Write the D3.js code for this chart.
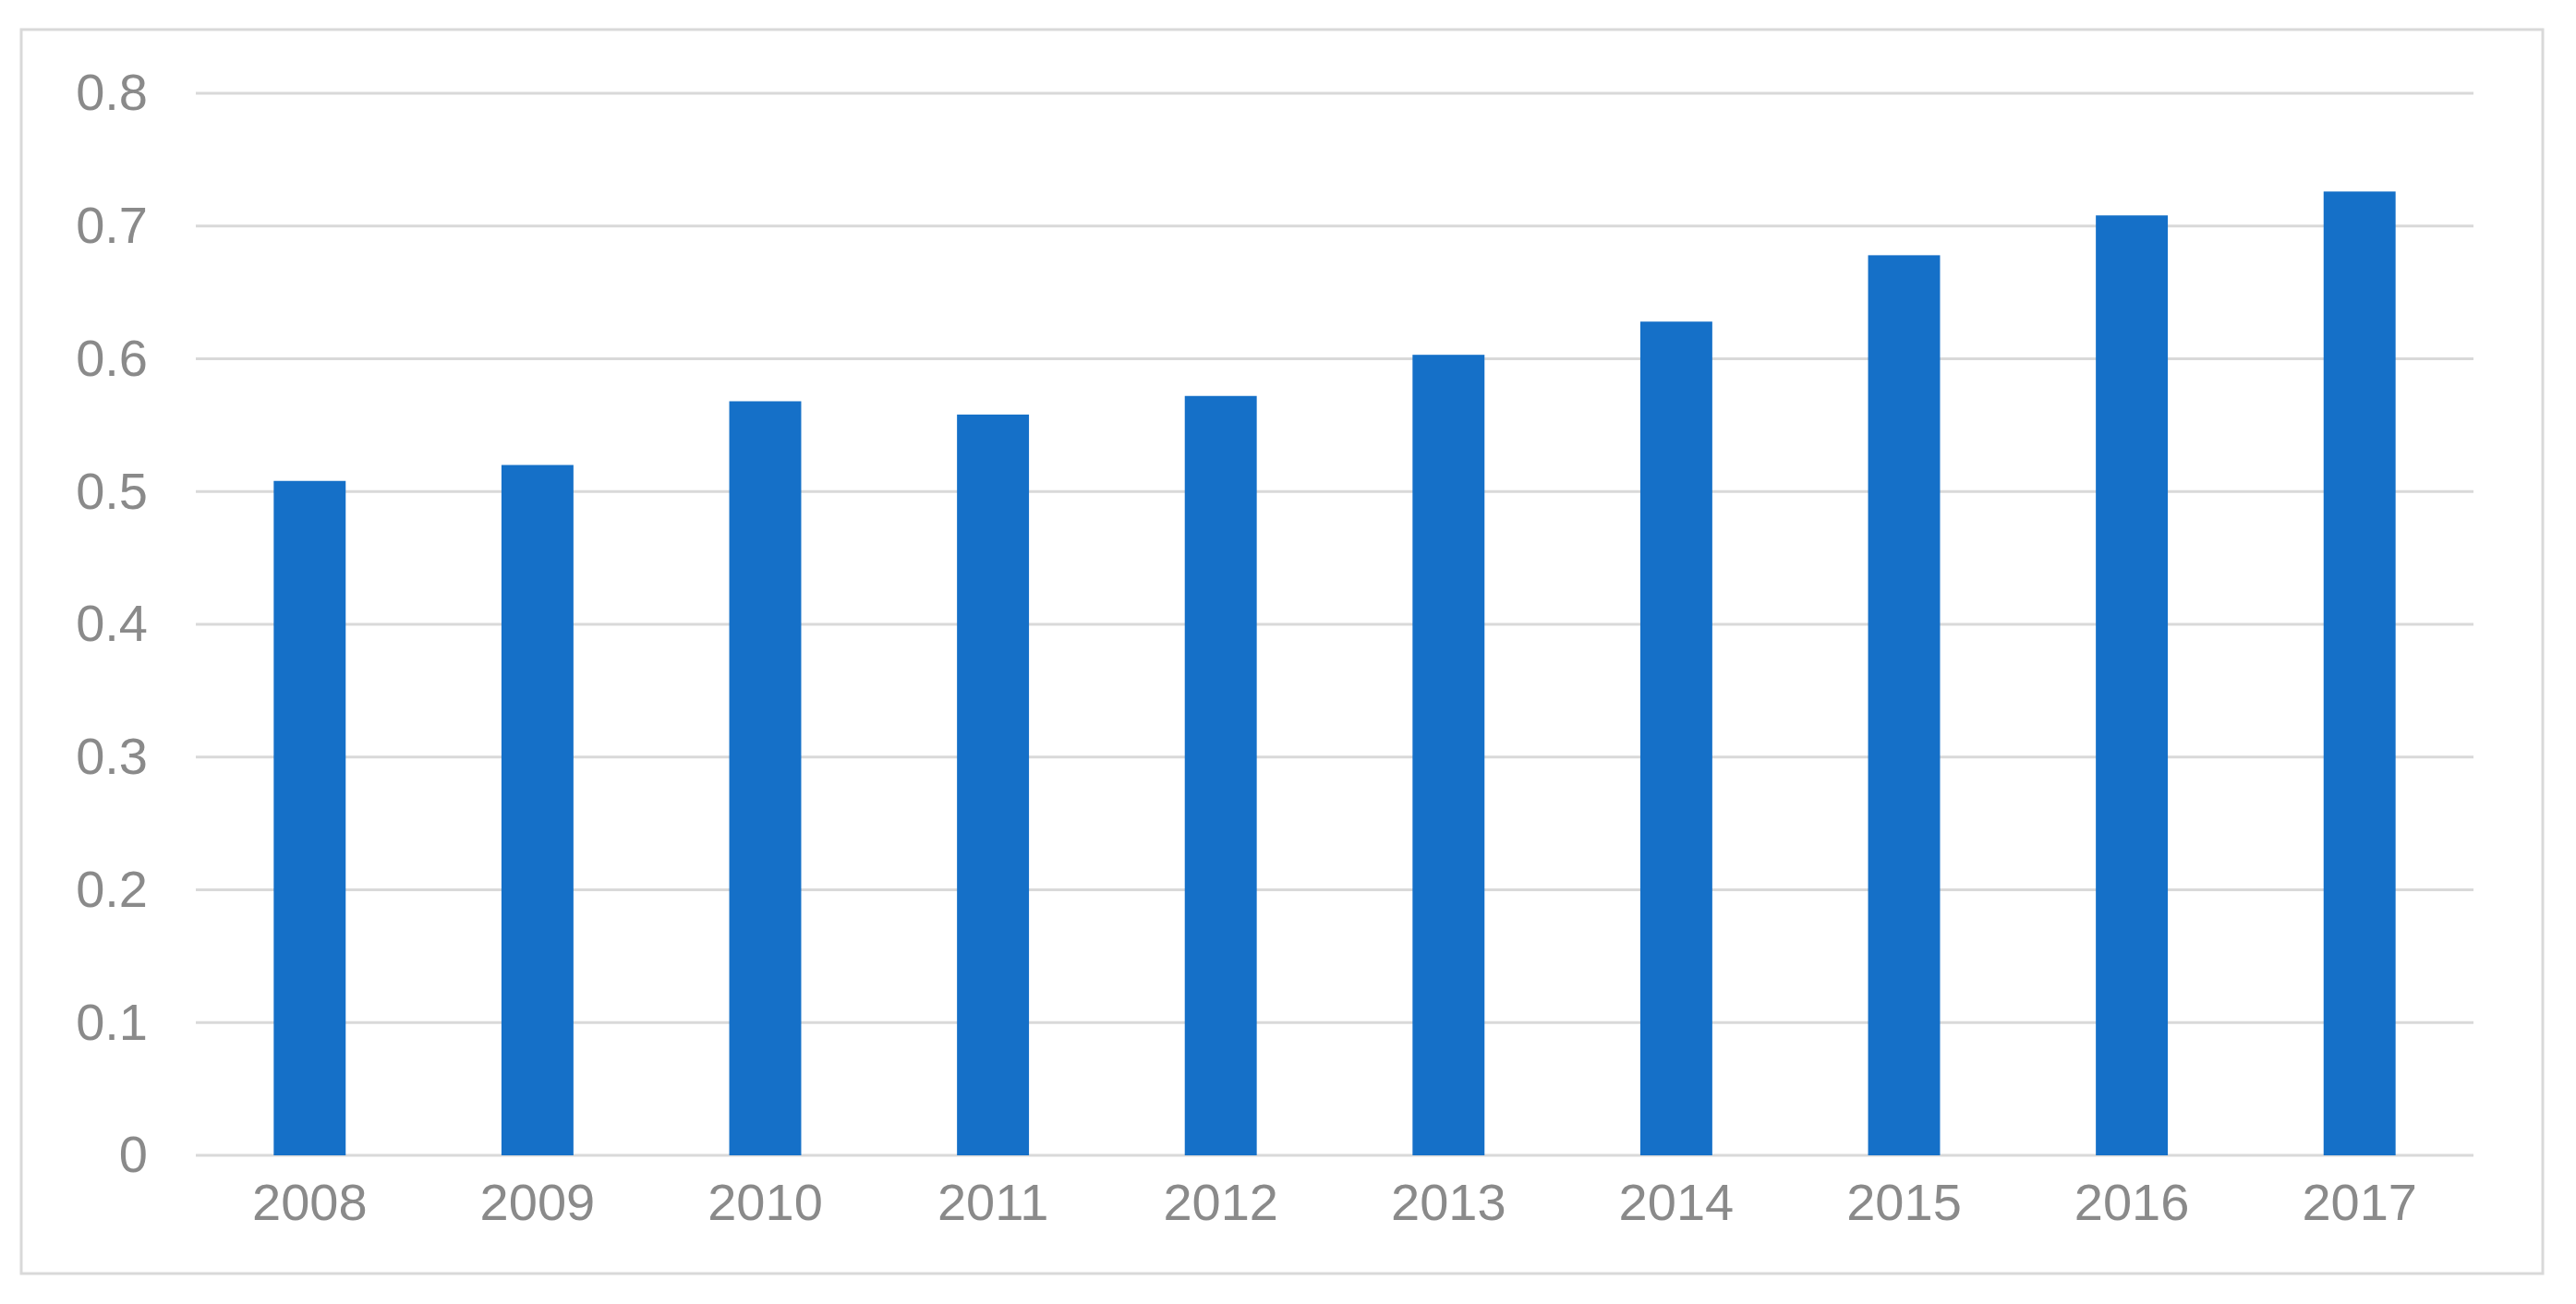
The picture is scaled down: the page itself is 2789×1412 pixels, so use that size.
<!DOCTYPE html>
<html>
<head>
<meta charset="utf-8">
<script src="https://cdn.jsdelivr.net/npm/d3@7"></script>
<style>
  body { margin: 0; background: #fff; }
  text { font-family: "Liberation Sans", Arial, sans-serif; fill: #8a8a8a; }
</style>
</head>
<body>
<svg id="chart" width="2789" height="1412"></svg>
<script>
// Data
const years = ["2008", "2009", "2010", "2011", "2012", "2013", "2014", "2015", "2016", "2017"]
const values = [0.508, 0.52, 0.568, 0.558, 0.572, 0.603, 0.628, 0.678, 0.708, 0.726]
const yTicks = [0, 0.1, 0.2, 0.3, 0.4, 0.5, 0.6, 0.7, 0.8]

const svg = d3.select("#chart")

// outer frame
svg.append("rect")
  .attr("x", 23).attr("y", 32).attr("width", 2730).attr("height", 1347)
  .attr("fill", "#fff").attr("stroke", "#d9d9d9").attr("stroke-width", 3)

const plotLeft = 212, plotRight = 2678, plotTop = 101, plotBottom = 1251

let x = d3.scaleBand().domain(years).range([plotLeft, plotRight]).paddingInner(0.684).paddingOuter(0.342)
let y = d3.scaleLinear().domain([0, 0.8]).range([plotBottom, plotTop])

// gridlines
svg.append("g").selectAll("line").data(yTicks).join("line")
  .attr("x1", plotLeft).attr("x2", plotRight)
  .attr("y1", d => y(d)).attr("y2", d => y(d))
  .attr("stroke", "#d9d9d9").attr("stroke-width", 3)

// bars
svg.append("g").selectAll("rect").data(values).join("rect")
  .attr("x", (d, i) => x(years[i]))
  .attr("y", d => y(d))
  .attr("width", x.bandwidth())
  .attr("height", d => y(0) - y(d))
  .attr("fill", "#1570c8")

// y axis labels
let yAxis = d3.axisLeft(y).tickValues(yTicks).tickSize(0).tickPadding(52).tickFormat(d => d === 0 ? "0" : d3.format(".1f")(d))
let gy = svg.append("g").attr("transform", `translate(${plotLeft},0)`).call(yAxis)
gy.select(".domain").remove()
gy.selectAll("text").style("font-size", "56px").attr("fill", "#8a8a8a")

// x axis labels
let xAxis = d3.axisBottom(x).tickSize(0).tickPadding(30)
let gx = svg.append("g").attr("transform", `translate(0,${plotBottom})`).call(xAxis)
gx.select(".domain").remove()
gx.selectAll("text").style("font-size", "56px").attr("fill", "#8a8a8a")
</script>
</body>
</html>
